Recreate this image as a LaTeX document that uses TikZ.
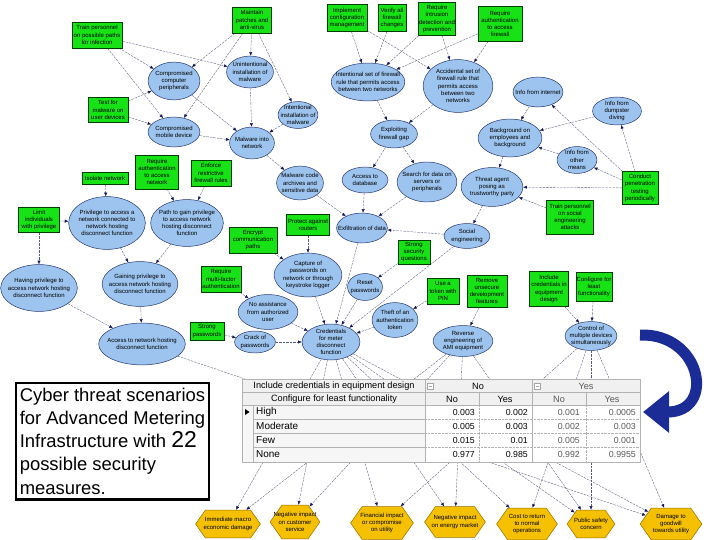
\documentclass[tikz,border=0pt]{standalone}
\usepackage{fontspec}
\setmainfont{Liberation Sans}
\usepackage{tikz}
\usetikzlibrary{positioning,arrows.meta,shapes.geometric,shapes.symbols,backgrounds}
\definecolor{secgreen}{RGB}{22,226,22}
\definecolor{secborder}{RGB}{0,60,0}
\definecolor{nodeblue}{RGB}{156,196,238}
\definecolor{nodeborder}{RGB}{40,55,110}
\definecolor{hexgold}{RGB}{244,192,0}
\definecolor{hexborder}{RGB}{150,110,0}
\definecolor{linkgray}{RGB}{85,90,125}
\definecolor{tipnavy}{RGB}{15,20,95}
\definecolor{bigarrow}{RGB}{28,44,150}
\newcommand{\nfont}{\fontsize{6}{7.2}\selectfont}

\begin{document}
\begin{tikzpicture}[x=1bp,y=-1bp,
  sec/.style={draw=secborder,fill=secgreen,line width=0.6pt,font=\nfont,align=center,inner sep=0.6pt},
  ell/.style={ellipse,draw=nodeborder,fill=nodeblue,line width=0.5pt,inner sep=0pt},
  hex/.style={signal,signal to=east and west,signal pointer angle=110,draw=hexborder,fill=hexgold,line width=0.5pt,inner sep=0pt},
  lbl/.style={font=\nfont,align=center,inner sep=0pt},
  link/.style={draw=linkgray,line width=0.35pt,dash pattern=on 2.5pt off 1pt,-{Latex[length=1.3mm,width=1.1mm,color=tipnavy]}},
  thead/.style={font=\fontsize{9.2}{10}\selectfont,inner sep=0pt},
  rowlbl/.style={font=\fontsize{10}{11}\selectfont,inner sep=0pt,anchor=west},
  cellval/.style={font=\fontsize{8.8}{10}\selectfont,inner sep=0pt,anchor=east},
]
\useasboundingbox (0,0) rectangle (720,540);

% security measures (green)
\node[sec,minimum width=50,minimum height=26] (trainInf) at (97,35) {Train personnel\\on possible paths\\for infection};
\node[sec,minimum width=39,minimum height=26] (patches) at (252,20) {Maintain\\patches and\\anti-virus};
\node[sec,minimum width=40,minimum height=27] (cfgMgmt) at (347,18) {Implement\\configuration\\management};
\node[sec,minimum width=28,minimum height=27] (verifyFw) at (392,18) {Verify all\\firewall\\changes};
\node[sec,minimum width=33,minimum height=33] (intrusion) at (437,19) {Require\\intrusion\\detection and\\prevention};
\node[sec,minimum width=44,minimum height=35] (authFw) at (500,24) {Require\\authentication\\to access\\firewall};
\node[sec,minimum width=40,minimum height=25] (testMal) at (108,110) {Test for\\malware on\\user devices};
\node[sec,minimum width=46,minimum height=12] (isolate) at (105,178) {Isolate network};
\node[sec,minimum width=43,minimum height=34] (authNet) at (157,172) {Require\\authentication\\to access\\network};
\node[sec,minimum width=40,minimum height=26] (fwRules) at (211,173) {Enforce\\restrictive\\firewall rules};
\node[sec,minimum width=41,minimum height=25] (limitPriv) at (39,220) {Limit\\individuals\\with privilege};
\node[sec,minimum width=48,minimum height=26] (encrypt) at (253,240) {Encrypt\\communication\\paths};
\node[sec,minimum width=43,minimum height=21] (routers) at (308,225) {Protect against\\routers};
\node[sec,minimum width=32,minimum height=24] (secQuest) at (414,252) {Strong\\security\\questions};
\node[sec,minimum width=40,minimum height=26] (multiFac) at (221,279) {Require\\multi-factor\\authentication};
\node[sec,minimum width=34,minimum height=18] (strongPw) at (207,331) {Strong\\passwords};
\node[sec,minimum width=32,minimum height=26] (tokenPin) at (443,291) {Use a\\token with\\PIN};
\node[sec,minimum width=40,minimum height=32] (removeDev) at (487,291) {Remove\\unsecure\\development\\features};
\node[sec,minimum width=39,minimum height=35] (inclCred) at (549,289) {Include\\credentials in\\equipment\\design};
\node[sec,minimum width=36,minimum height=29] (leastFn) at (594,287) {Configure for\\least\\functionality};
\node[sec,minimum width=47,minimum height=34] (trainSoc) at (570,217) {Train personnel\\on social\\engineering\\attacks};
\node[sec,minimum width=36,minimum height=33] (penTest) at (640,188) {Conduct\\penetration\\testing\\periodically};

% threat events (blue)
\node[ell,minimum width=52,minimum height=38,label={[lbl]center:Compromised\\computer\\peripherals}] (periph) at (174,81) {};
\node[ell,minimum width=47,minimum height=32,label={[lbl]center:Unintentional\\installation of\\malware}] (unintent) at (250,72) {};
\node[ell,minimum width=52,minimum height=30,label={[lbl]center:Compromised\\mobile device}] (mobile) at (174,132) {};
\node[ell,minimum width=40,minimum height=27,label={[lbl]center:Intentional\\installation of\\malware}] (intent) at (298,115) {};
\node[ell,minimum width=45,minimum height=32,label={[lbl]center:Malware into\\network}] (malNet) at (252,143) {};
\node[ell,minimum width=74,minimum height=38,label={[lbl]center:Intentional set of firewall\\rule that permits access\\between two networks}] (intSet) at (368,82) {};
\node[ell,minimum width=70,minimum height=53,label={[lbl]center:Accidental set of\\firewall rule that\\permits access\\between two\\networks}] (accSet) at (458,86) {};
\node[ell,minimum width=47,minimum height=28,label={[lbl]center:Exploiting\\firewall gap}] (exploit) at (394,134) {};
\node[ell,minimum width=50,minimum height=30,label={[lbl]center:Info from internet}] (infoNet) at (538,92) {};
\node[ell,minimum width=49,minimum height=28,label={[lbl]center:Info from\\dumpster\\diving}] (dumpster) at (617,111) {};
\node[ell,minimum width=64,minimum height=38,label={[lbl]center:Background on\\employees and\\background}] (backgr) at (510,138) {};
\node[ell,minimum width=40,minimum height=27,label={[lbl]center:Info from\\other\\means}] (otherMeans) at (577,160) {};
\node[ell,minimum width=62,minimum height=39,label={[lbl]center:Threat agent\\posing as\\trustworthy party}] (threat) at (492,187) {};
\node[ell,minimum width=46,minimum height=25,label={[lbl]center:Social\\engineering}] (socEng) at (467,236) {};
\node[ell,minimum width=47,minimum height=34,label={[lbl]center:Malware code\\archives and\\sensitive data}] (malCode) at (300,183) {};
\node[ell,minimum width=46,minimum height=26,label={[lbl]center:Access to\\database}] (accessDb) at (365,180) {};
\node[ell,minimum width=60,minimum height=40,label={[lbl]center:Search for data on\\servers or\\peripherals}] (searchData) at (427,182) {};
\node[ell,minimum width=51,minimum height=30,label={[lbl]center:Exfiltration of data}] (exfil) at (362,228) {};
\node[ell,minimum width=77,minimum height=53,label={[lbl]center:Privilege to access a\\network connected to\\network hosting\\disconnect function}] (privConn) at (107,223) {};
\node[ell,minimum width=73,minimum height=47,label={[lbl]center:Path to gain privilege\\to access network\\hosting disconnect\\function}] (pathGain) at (187,223) {};
\node[ell,minimum width=77,minimum height=47,label={[lbl]center:Having privilege to\\access network hosting\\disconnect function}] (havePriv) at (39,288) {};
\node[ell,minimum width=76,minimum height=45,label={[lbl]center:Gaining privilege to\\access network hosting\\disconnect function}] (gainPriv) at (140,284) {};
\node[ell,minimum width=87,minimum height=42,label={[lbl]center:Access to network hosting\\disconnect function}] (accessNet) at (142,344) {};
\node[ell,minimum width=68,minimum height=44,label={[lbl]center:Capture of\\passwords on\\network or through\\keystroke logger}] (capture) at (308,275) {};
\node[ell,minimum width=35,minimum height=27,label={[lbl]center:Reset\\passwords}] (resetPw) at (365,287) {};
\node[ell,minimum width=60,minimum height=35,label={[lbl]center:No assistance\\from authorized\\user}] (noAssist) at (268,312) {};
\node[ell,minimum width=41,minimum height=22,label={[lbl]center:Crack of\\passwords}] (crack) at (255,342) {};
\node[ell,minimum width=58,minimum height=36,label={[lbl]center:Credentials\\for meter\\disconnect\\function}] (cred) at (331,342) {};
\node[ell,minimum width=46,minimum height=35,label={[lbl]center:Theft of an\\authentication\\token}] (theft) at (395,320) {};
\node[ell,minimum width=60,minimum height=31,label={[lbl]center:Reverse\\engineering of\\AMI equipment}] (reverse) at (463,341) {};
\node[ell,minimum width=52,minimum height=29,label={[lbl]center:Control of\\multiple devices\\simultaneously}] (control) at (591,336) {};

% consequences (gold)
\node[hex,minimum width=65,minimum height=28,label={[lbl]center:Immediate macro\\economic damage}] (immed) at (228,524) {};
\node[hex,minimum width=50,minimum height=34,label={[lbl]center:Negative impact\\on customer\\service}] (custServ) at (295,522) {};
\node[hex,minimum width=63,minimum height=33,label={[lbl]center:Financial impact\\or compromise\\on utility}] (finImpact) at (382,523) {};
\node[hex,minimum width=61,minimum height=31,label={[lbl]center:Negative impact\\on energy market}] (energyMkt) at (455,522) {};
\node[hex,minimum width=61,minimum height=32,label={[lbl]center:Cost to return\\to normal\\operations}] (costReturn) at (527,524) {};
\node[hex,minimum width=48,minimum height=28,label={[lbl]center:Public safety\\concern}] (safety) at (591,524) {};
\node[hex,minimum width=62,minimum height=32,label={[lbl]center:Damage to\\goodwill\\towards utility}] (goodwill) at (671,524) {};

\begin{scope}[on background layer]
\fill[white] (0,0) rectangle (720,540);
% malware paths
\draw[link] (trainInf) -- (periph);
\draw[link] (trainInf) -- (unintent);
\draw[link] (trainInf) -- (mobile);
\draw[link] (patches) -- (periph);
\draw[link] (patches) -- (unintent);
\draw[link] (patches) -- (intent);
\draw[link] (patches) -- (mobile);
\draw[link] (testMal) -- (periph);
\draw[link] (testMal) -- (mobile);
\draw[link] (periph) -- (malNet);
\draw[link] (unintent) -- (malNet);
\draw[link] (mobile) -- (malNet);
\draw[link] (intent) -- (malNet);
\draw[link] (malNet) -- (malCode);
% firewall paths
\draw[link] (cfgMgmt) -- (intSet);
\draw[link] (cfgMgmt) -- (accSet);
\draw[link] (verifyFw) -- (intSet);
\draw[link] (intrusion) -- (intSet);
\draw[link] (intrusion) -- (accSet);
\draw[link] (authFw) -- (intSet);
\draw[link] (authFw) -- (accSet);
\draw[link] (intSet) -- (exploit);
\draw[link] (accSet) -- (exploit);
\draw[link] (exploit) -- (accessDb);
\draw[link] (exploit) -- (searchData);
% social engineering
\draw[link] (infoNet) -- (backgr);
\draw[link] (dumpster) -- (backgr);
\draw[link] (otherMeans) -- (backgr);
\draw[link] (backgr) -- (threat);
\draw[link] (penTest) -- (infoNet);
\draw[link] (penTest) -- (dumpster);
\draw[link] (penTest) -- (otherMeans);
\draw[link] (penTest) -- (threat);
\draw[link] (trainSoc) -- (threat);
\draw[link] (threat) -- (socEng);
% exfiltration
\draw[link] (socEng) -- (exfil);
\draw[link] (malCode) -- (exfil);
\draw[link] (accessDb) -- (exfil);
\draw[link] (searchData) -- (exfil);
% credentials
\draw[link] (exfil) -- (cred);
\draw[link] (socEng) -- (cred);
\draw[link] (capture) -- (cred);
\draw[link] (resetPw) -- (cred);
\draw[link] (noAssist) -- (cred);
\draw[link] (crack) -- (cred);
\draw[link] (theft) -- (cred);
\draw[link] (strongPw) -- (crack);
\draw[link] (multiFac) -- (noAssist);
\draw[link] (encrypt) -- (capture);
\draw[link] (routers) -- (capture);
\draw[link] (secQuest) -- (resetPw);
\draw[link] (tokenPin) -- (theft);
\draw[link] (removeDev) -- (reverse);
\draw[link] (inclCred) -- (control);
\draw[link] (leastFn) -- (control);
% network privilege
\draw[link] (isolate) -- (privConn);
\draw[link] (limitPriv) -- (privConn);
\draw[link] (limitPriv) -- (havePriv);
\draw[link] (authNet) -- (pathGain);
\draw[link] (fwRules) -- (pathGain);
\draw[link] (privConn) -- (gainPriv);
\draw[link] (pathGain) -- (gainPriv);
\draw[link] (gainPriv) -- (accessNet);
\draw[link] (havePriv) -- (accessNet);
% consequences
\draw[link] (accessNet) -- (goodwill);
\draw[link] (cred) -- (immed);
\draw[link] (cred) -- (custServ);
\draw[link] (cred) -- (finImpact);
\draw[link] (cred) -- (energyMkt);
\draw[link] (cred) -- (costReturn);
\draw[link] (cred) -- (safety);
\draw[link] (cred) -- (goodwill);
\draw[link] (reverse) -- (immed);
\draw[link] (reverse) -- (custServ);
\draw[link] (reverse) -- (energyMkt);
\draw[link] (reverse) -- (safety);
\draw[link] (control) -- (finImpact);
\draw[link] (control) -- (costReturn);
\draw[link] (control) -- (safety);
\draw[link] (control) -- (goodwill);
\end{scope}

% probability table pasted over the links
\fill[white] (242,379) rectangle (640,462);
\fill[gray!12] (242,379) rectangle (640,405);
\fill[gray!7] (242,405) rectangle (425,462);
\draw[gray!60] (242,379) rectangle (640,462);
\draw[gray!60] (242,392) -- (640,392) (242,405) -- (640,405);
\draw[gray!60] (425,379) -- (425,462) (532,379) -- (532,462);
\draw[gray!60] (479,392) -- (479,405) (586,392) -- (586,405);
\draw[gray!60,densely dotted] (479,405) -- (479,462) (586,405) -- (586,462);
\draw[gray!60] (253,405) -- (253,462);
\draw[gray!60] (253,419) -- (425,419) (253,433) -- (425,433) (253,447) -- (425,447);
\draw[gray!60,densely dotted] (425,419) -- (640,419) (425,433) -- (640,433) (425,447) -- (640,447);
\draw[gray!70,fill=white] (427,383) rectangle (433,389) (534,383) rectangle (540,389);
\draw[gray!70] (428.5,386) -- (431.5,386) (535.5,386) -- (538.5,386);
\fill (245,409) -- (249.5,412) -- (245,415) -- cycle;
\node[thead] (hdrIncl) at (334,386) {Include credentials in equipment design};
\node[thead] (hdrCfg) at (334,399) {Configure for least functionality};
\node[thead] (hdrNo) at (478,386) {No};
\node[thead,black!65] (hdrYes) at (586,386) {Yes};
\node[thead] (subNoNo) at (452,399) {No};
\node[thead] (subNoYes) at (505,399) {Yes};
\node[thead,black!65] (subYesNo) at (559,399) {No};
\node[thead,black!65] (subYesYes) at (612,399) {Yes};
\node[rowlbl] (rHigh) at (256,412) {High};
\node[rowlbl] (rMod) at (256,426) {Moderate};
\node[rowlbl] (rFew) at (256,440) {Few};
\node[rowlbl] (rNone) at (256,454.5) {None};
\node[cellval] (h1) at (475,412) {0.003};
\node[cellval] (h2) at (528,412) {0.002};
\node[cellval,black!65] (h3) at (580,412) {0.001};
\node[cellval,black!65] (h4) at (636,412) {0.0005};
\node[cellval] (m1) at (475,426) {0.005};
\node[cellval] (m2) at (528,426) {0.003};
\node[cellval,black!65] (m3) at (580,426) {0.002};
\node[cellval,black!65] (m4) at (636,426) {0.003};
\node[cellval] (f1) at (475,440) {0.015};
\node[cellval] (f2) at (528,440) {0.01};
\node[cellval,black!65] (f3) at (580,440) {0.005};
\node[cellval,black!65] (f4) at (636,440) {0.001};
\node[cellval] (n1) at (475,454.5) {0.977};
\node[cellval] (n2) at (528,454.5) {0.985};
\node[cellval,black!65] (n3) at (580,454.5) {0.992};
\node[cellval,black!65] (n4) at (636,454.5) {0.9955};

% caption box
\node[draw,line width=2.6pt,fill=white,minimum width=194,minimum height=117,align=left,inner sep=4pt,
  font=\fontsize{18.5}{23.3}\selectfont,anchor=north west] (caption) at (14.5,381.5)
  {Cyber threat scenarios\\for Advanced Metering\\Infrastructure with {\fontsize{23}{23}\selectfont 22}\\possible security\\measures.};

% big curved arrow from the network to the table
\draw[bigarrow,line width=11bp,-{Triangle[length=26bp,width=40bp]}] (640,335) .. controls (702,333) and (716,412) .. (643,412);
\end{tikzpicture}
\end{document}
